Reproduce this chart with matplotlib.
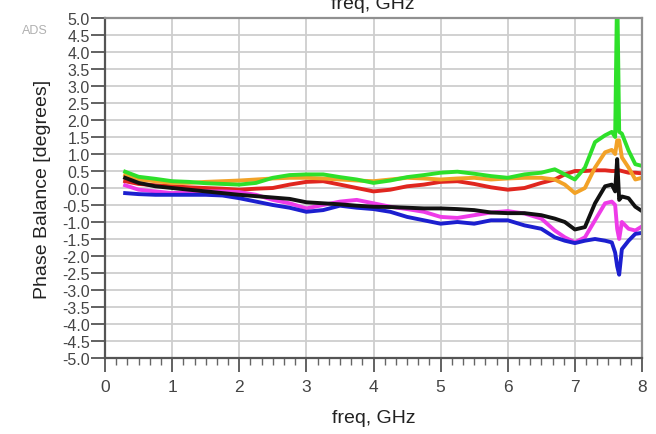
import numpy as np
import matplotlib
matplotlib.use('Agg')
import matplotlib.pyplot as plt
from matplotlib.ticker import MultipleLocator

plt.rcParams['font.family'] = ['Liberation Sans', 'DejaVu Sans']

###### Data ######

freq = [0.3, 0.5, 0.75, 1.0, 1.25, 1.5, 1.75, 2.0, 2.25, 2.5, 2.75, 3.0, 3.25, 3.5,
        3.75, 4.0, 4.25, 4.5, 4.75, 5.0, 5.25, 5.5, 5.75, 6.0, 6.25, 6.5, 6.7, 6.85,
        7.0, 7.15, 7.3, 7.45, 7.55, 7.6, 7.63, 7.66, 7.7, 7.8, 7.9, 8.0]

green = [0.48, 0.33, 0.27, 0.2, 0.18, 0.14, 0.12, 0.1, 0.15, 0.3, 0.38, 0.4, 0.4, 0.32,
         0.25, 0.15, 0.22, 0.32, 0.38, 0.45, 0.48, 0.42, 0.35, 0.3, 0.4, 0.45, 0.55, 0.4,
         0.25, 0.6, 1.35, 1.55, 1.65, 1.5, 6.0, 1.65, 1.6, 1.1, 0.7, 0.65]

orange = [0.38, 0.25, 0.2, 0.15, 0.15, 0.18, 0.2, 0.22, 0.25, 0.28, 0.3, 0.3, 0.28, 0.25,
          0.22, 0.2, 0.25, 0.3, 0.28, 0.25, 0.28, 0.3, 0.25, 0.28, 0.3, 0.3, 0.25, 0.1,
          -0.15, 0.0, 0.6, 1.05, 1.12, 1.0, 1.4, 1.4, 0.9, 0.6, 0.25, 0.3]

red = [0.2, 0.12, 0.08, 0.05, 0.02, 0.0, -0.02, -0.05, -0.02, 0.0, 0.1, 0.18, 0.2, 0.1,
       0.0, -0.1, -0.05, 0.05, 0.1, 0.18, 0.2, 0.12, 0.02, -0.05, 0.0, 0.15, 0.25, 0.4,
       0.5, 0.5, 0.52, 0.52, 0.5, 0.5, 0.5, 0.52, 0.5, 0.45, 0.45, 0.43]

black = [0.3, 0.15, 0.05, 0.0, -0.05, -0.1, -0.15, -0.2, -0.24, -0.28, -0.32, -0.42, -0.45, -0.48,
         -0.52, -0.55, -0.56, -0.58, -0.6, -0.6, -0.62, -0.65, -0.72, -0.74, -0.74, -0.8, -0.9, -1.0,
         -1.22, -1.15, -0.45, 0.05, 0.1, -0.1, 0.85, -0.35, -0.25, -0.3, -0.55, -0.68]

magenta = [0.08, -0.05, -0.1, -0.15, -0.12, -0.1, -0.1, -0.12, -0.2, -0.35, -0.45, -0.6, -0.5, -0.4,
           -0.35, -0.45, -0.55, -0.62, -0.7, -0.85, -0.88, -0.8, -0.72, -0.68, -0.75, -0.9, -1.25, -1.45,
           -1.6, -1.45, -0.95, -0.45, -0.4, -0.5, -1.2, -1.5, -1.0, -1.2, -1.25, -1.13]

blue = [-0.15, -0.18, -0.2, -0.2, -0.2, -0.2, -0.22, -0.3, -0.4, -0.5, -0.58, -0.7, -0.65, -0.52,
        -0.58, -0.62, -0.7, -0.85, -0.95, -1.05, -1.0, -1.05, -0.95, -0.95, -1.1, -1.2, -1.45, -1.55,
        -1.62, -1.55, -1.5, -1.55, -1.6, -1.9, -2.3, -2.55, -1.8, -1.55, -1.35, -1.32]

yticks = np.arange(-5.0, 5.01, 0.5)

###### Plot ######

fig = plt.figure(figsize=(6.56, 4.35), dpi=100)
ax = fig.add_axes([105/656, 1-359/435, 537/656, 340/435])

lw = 2.8
ax.plot(freq, red, color='#e0261f', lw=lw)
ax.plot(freq, orange, color='#f2a227', lw=lw)
ax.plot(freq, magenta, color='#ee3be8', lw=lw)
ax.plot(freq, blue, color='#1c1fcf', lw=lw)
ax.plot(freq, black, color='#111111', lw=lw)
ax.plot(freq, green, color='#2ee02a', lw=lw)

ax.set_xlim(0, 8)
ax.set_ylim(-5, 5)
ax.set_yticks(yticks)
ax.set_yticklabels(['%.1f' % v for v in yticks])
ax.xaxis.set_major_locator(MultipleLocator(1))
ax.xaxis.set_minor_locator(MultipleLocator(1/6))

ax.grid(True, which='major', color='#cecece', lw=1.3)
ax.set_axisbelow(True)

for s in ['left', 'bottom']:
    ax.spines[s].set_color('#555555')
    ax.spines[s].set_linewidth(1.6)
for s in ['top', 'right']:
    ax.spines[s].set_color('#909090')
    ax.spines[s].set_linewidth(1.6)

ax.tick_params(axis='y', which='major', length=10, width=1.3, color='#555555',
               labelsize=11.5, labelcolor='#444444', pad=1)
ax.tick_params(axis='x', which='major', length=10, width=1.3, color='#555555',
               labelsize=12.5, labelcolor='#444444', pad=5)
ax.tick_params(axis='x', which='minor', length=5, width=1.0, color='#666666')

ax.set_ylabel('Phase Balance [degrees]', fontsize=14, color='#222222', labelpad=8)
ax.set_xlabel('freq, GHz', fontsize=14, color='#222222', labelpad=11)

fig.text(35/656, 1-31/435, 'ADS', fontsize=9, color='#b0b0b0', ha='center', va='center')
fig.text(373/656, 1-9/435, 'freq, GHz', fontsize=14, color='#222222', ha='center', va='baseline')

plt.savefig('out.png', dpi=100, facecolor='w')
